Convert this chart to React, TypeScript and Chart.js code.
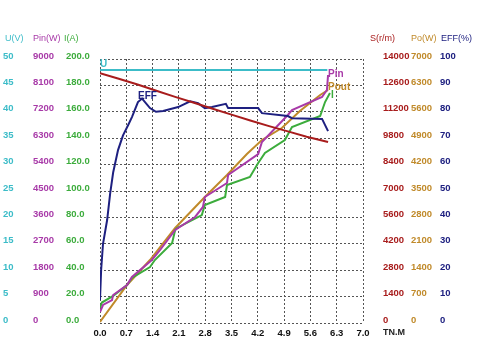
import React, { useEffect, useRef } from "react";
import { Chart, registerables } from "chart.js";

Chart.register(...registerables);

// Tick labels
const xTicks = [0, 0.7, 1.4, 2.1, 2.8, 3.5, 4.2, 4.9, 5.6, 6.3, 7.0];
const uTicks = [0, 5, 10, 15, 20, 25, 30, 35, 40, 45, 50];
const pinTicks = [0, 900, 1800, 2700, 3600, 4500, 5400, 6300, 7200, 8100, 9000];
const iTicks = [0, 20, 40, 60, 80, 100, 120, 140, 160, 180, 200];
const sTicks = [0, 1400, 2800, 4200, 5600, 7000, 8400, 9800, 11200, 12600, 14000];
const poTicks = [0, 700, 1400, 2100, 2800, 3500, 4200, 4900, 5600, 6300, 7000];
const effTicks = [0, 10, 20, 30, 40, 50, 60, 70, 80, 90, 100];

// Series (torque T in N.m)
const uT = [0, 1.0, 2.0, 3.0, 4.0, 5.0, 6.05];
const uV = [47.9, 47.9, 47.9, 47.9, 47.9, 47.9, 47.9];

const sT = [0, 0.5, 1.0, 1.5, 2.0, 2.5, 3.0, 3.5, 4.0, 4.5, 5.0, 5.5, 6.07];
const sV = [13250, 12950, 12650, 12320, 11990, 11680, 11360, 11050, 10740, 10440, 10160, 9880, 9600];

const effT = [0, 0.03, 0.08, 0.19, 0.27, 0.35, 0.48, 0.61, 0.75, 0.85, 1.01, 1.12, 1.33, 1.49, 1.68, 2.08, 2.4, 2.61, 2.79, 2.98, 3.35, 3.41, 4.21, 4.31, 5.0, 5.11, 5.91, 6.07];
const effV = [8.7, 20, 30, 39, 49, 57, 65.5, 71, 75, 78, 83.7, 85, 81.4, 80, 80.3, 81.8, 84, 83.3, 81.4, 81.8, 83, 81.4, 81.4, 79.5, 78.4, 77.6, 77.3, 72.7];

const pinT = [0, 0.08, 0.32, 0.35, 0.72, 0.85, 1.38, 1.6, 2.0, 2.53, 2.74, 2.79, 3.38, 3.41, 4.21, 4.31, 5.0, 5.11, 5.91, 6.04, 6.07];
const pinV = [375, 614, 784, 955, 1295, 1568, 2148, 2489, 3170, 3614, 3955, 4295, 4773, 5045, 5761, 6170, 7091, 7261, 7705, 7943, 8455];

const iT = [0, 0.05, 0.35, 0.72, 0.85, 1.33, 1.46, 1.92, 2.0, 2.05, 2.71, 2.79, 3.33, 3.38, 3.99, 4.21, 4.39, 4.92, 5.11, 5.86, 5.99, 6.12];
const iV = [11.4, 15.5, 20.5, 28.8, 34.1, 42.4, 47.7, 60.6, 70.5, 72, 81.8, 89.4, 95.5, 104.5, 110.6, 121.2, 128.8, 138.6, 148.5, 156.8, 167.4, 174.2];

const poT = [0, 0.72, 1.33, 2.0, 2.79, 3.38, 3.91, 4.31, 4.84, 5.32, 5.86, 6.07];
const poV = [26, 1008, 1670, 2519, 3341, 3924, 4481, 4852, 5170, 5621, 6045, 6178];

const pts = (xs: number[], ys: number[]) => xs.map((x, i) => ({ x, y: ys[i] }));

const C_U = "#3cbcc8";
const C_PIN = "#a83aa8";
const C_I = "#3cac3c";
const C_S = "#a81c1c";
const C_PO = "#c08a2a";
const C_EFF = "#1e2080";

const tickFont = { family: "Liberation Sans", size: 9.5, weight: "bold" as const };
const gridColor = "#555";

const lineLabels = [
  { ds: 0, text: "U", index: 0, dx: 0, dy: -6, color: C_U },
  { ds: 2, text: "EFF", index: 11, dx: -4, dy: -2, color: C_EFF },
  { ds: 3, text: "Pin", index: 20, dx: 0, dy: -1, color: C_PIN },
  { ds: 5, text: "Pout", index: 11, dx: 0, dy: -3, color: C_PO },
  { ds: 4, text: "I", index: 21, dx: 1, dy: 2, color: C_I },
];

const headers = [
  { axis: "yU", text: "U(V)", dx: 2, color: C_U },
  { axis: "yPin", text: "Pin(W)", dx: 0, color: C_PIN },
  { axis: "yI", text: "I(A)", dx: -2, color: C_I },
  { axis: "yS", text: "S(r/m)", dx: 7, color: C_S },
  { axis: "yPo", text: "Po(W)", dx: 0, color: C_PO },
  { axis: "yEff", text: "EFF(%)", dx: 1, color: C_EFF },
];

const textPlugin = {
  id: "textPlugin",
  afterDatasetsDraw(chart: any) {
    const ctx = chart.ctx;
    ctx.save();
    ctx.font = "bold 10px 'Liberation Sans'";
    ctx.textBaseline = "middle";
    ctx.textAlign = "left";
    for (const l of lineLabels) {
      const el = chart.getDatasetMeta(l.ds).data[l.index];
      if (!el) continue;
      ctx.fillStyle = l.color;
      ctx.fillText(l.text, el.x + l.dx, el.y + l.dy);
    }
    ctx.restore();
  },
  afterDraw(chart: any) {
    const ctx = chart.ctx;
    ctx.save();
    ctx.font = "9px 'Liberation Sans'";
    ctx.textBaseline = "middle";
    ctx.textAlign = "left";
    const top = chart.chartArea.top - 20;
    for (const h of headers) {
      const sc = chart.scales[h.axis];
      ctx.fillStyle = h.color;
      ctx.fillText(h.text, sc.left + h.dx, top);
    }
    ctx.font = "bold 9px 'Liberation Sans'";
    ctx.fillStyle = "#222";
    const s = chart.scales.yS;
    ctx.fillText("TN.M", s.left + s.options.ticks.padding, chart.chartArea.bottom + 10);
    ctx.restore();
  },
};

function yAxis(
  ticksArr: number[],
  position: "left" | "right",
  weight: number,
  width: number,
  color: string,
  padding: number,
  fmt: (v: number) => string,
  drawGrid: boolean
) {
  return {
    type: "linear" as const,
    position,
    weight,
    min: ticksArr[0],
    max: ticksArr[ticksArr.length - 1],
    afterBuildTicks: (scale: any) => {
      scale.ticks = ticksArr.map((v) => ({ value: v }));
    },
    afterFit: (scale: any) => {
      scale.width = width;
    },
    ticks: {
      crossAlign: position === "left" ? ("far" as const) : ("near" as const),
      padding,
      color,
      font: tickFont,
      labelOffset: -3,
      autoSkip: false,
      callback: (v: any) => fmt(Number(v)),
    },
    grid: drawGrid
      ? { display: true, color: gridColor, lineWidth: 1, drawTicks: false }
      : { display: false, drawTicks: false },
    border: { display: false, dash: [2, 2] },
  };
}

export default function App() {
  const ref = useRef<HTMLCanvasElement | null>(null);
  useEffect(() => {
    if (!ref.current) return;
    const mk = (label: string, xs: number[], ys: number[], color: string, axis: string) => ({
      label,
      data: pts(xs, ys),
      borderColor: color,
      backgroundColor: color,
      borderWidth: 2,
      pointRadius: 0,
      tension: 0,
      fill: false,
      yAxisID: axis,
    });
    const chart = new Chart(ref.current, {
      type: "line",
      data: {
        datasets: [
          mk("U", uT, uV, C_U, "yU"),
          mk("S", sT, sV, C_S, "yS"),
          mk("EFF", effT, effV, C_EFF, "yEff"),
          mk("Pin", pinT, pinV, C_PIN, "yPin"),
          mk("I", iT, iV, C_I, "yI"),
          mk("Pout", poT, poV, C_PO, "yPo"),
        ],
      },
      options: {
        responsive: false,
        animation: false,
        parsing: true,
        layout: { padding: { left: 3, top: 59, right: 0, bottom: 0 } },
        plugins: {
          legend: { display: false },
          tooltip: { enabled: false },
          title: { display: false },
        },
        scales: {
          x: {
            type: "linear",
            position: "bottom",
            min: 0,
            max: 7,
            afterBuildTicks: (scale: any) => {
              scale.ticks = xTicks.map((v) => ({ value: v }));
            },
            afterFit: (scale: any) => {
              scale.height = 37;
            },
            ticks: {
              color: "#111",
              font: tickFont,
              padding: 5,
              maxRotation: 0,
              autoSkip: false,
              callback: (v: any) => Number(v).toFixed(1),
            },
            grid: { color: gridColor, lineWidth: 1, drawTicks: false },
            border: { display: false, dash: [2, 2] },
          },
          yU: yAxis(uTicks, "left", 3, 30, C_U, 0, (v) => String(v), true),
          yPin: yAxis(pinTicks, "left", 2, 33, C_PIN, 0, (v) => String(v), false),
          yI: yAxis(iTicks, "left", 1, 34, C_I, 0, (v) => v.toFixed(1), false),
          yS: yAxis(sTicks, "right", 1, 48, C_S, 20, (v) => String(v), false),
          yPo: yAxis(poTicks, "right", 2, 29, C_PO, 0, (v) => String(v), false),
          yEff: yAxis(effTicks, "right", 3, 40, C_EFF, 0, (v) => String(v), false),
        } as any,
      },
      plugins: [textPlugin],
    });
    return () => chart.destroy();
  }, []);
  return (
    <div style={{ position: "absolute", left: 0, top: 0, width: 480, height: 360, background: "#fff" }}>
      <canvas ref={ref} width={480} height={360} style={{ display: "block" }} />
    </div>
  );
}
